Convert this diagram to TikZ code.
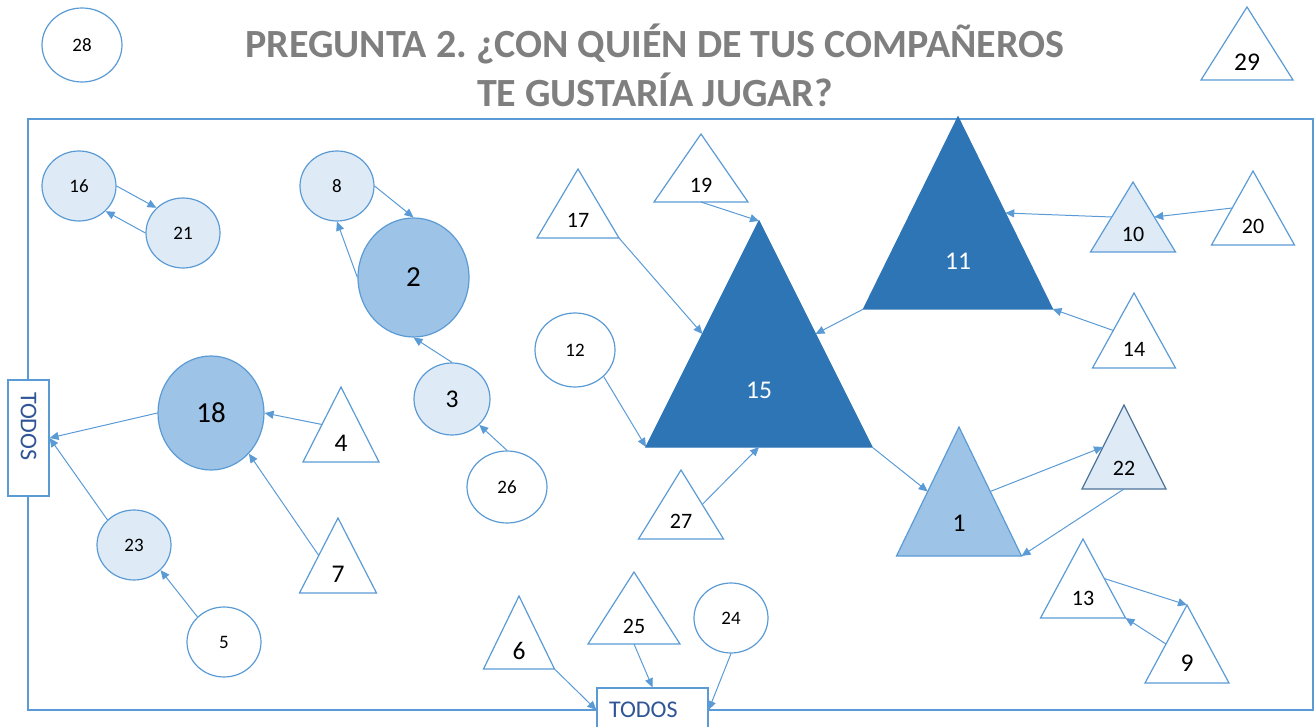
\documentclass[tikz,border=0pt]{standalone}
\usepackage{fontspec}
\setmainfont{Carlito}
\frenchspacing
\usetikzlibrary{shapes.geometric, arrows.meta, calc}
\definecolor{edge}{HTML}{5B9BD5}
\definecolor{pale}{HTML}{DEEBF7}
\definecolor{mid}{HTML}{9DC3E6}
\definecolor{deep}{HTML}{2E75B6}
\definecolor{edgedark}{HTML}{4F7399}
\definecolor{titlegray}{HTML}{7F7F7F}
\definecolor{todotext}{HTML}{2F5597}

% triangle: name, apex, base width, height, outline style, label style, label
\newcommand{\tri}[7]{%
  \draw[outline, #5] (#2) coordinate (#1-t) -- ++(#3/2,#4) coordinate (#1-r)
      -- ++(-#3,0) coordinate (#1-l) -- cycle;
  \coordinate (#1-b) at ($(#1-l)!0.5!(#1-r)$);
  \coordinate (#1-w) at ($(#1-t)!0.5!(#1-l)$);
  \coordinate (#1-e) at ($(#1-t)!0.5!(#1-r)$);
  \node[lab, #6] (#1) at ($(#1-t)!0.75!(#1-b)$) {#7};
}

\begin{document}
\begin{tikzpicture}[x=1pt, y=-1pt,
    outline/.style={draw=edge, line width=1.2pt, fill=white},
    stud/.style={ellipse, draw=edge, line width=1.2pt, fill=white, inner sep=0pt},
    lab/.style={inner sep=0pt},
    small/.style={font=\fontsize{19}{21}\selectfont},
    med/.style={font=\fontsize{22}{24}\selectfont},
    big/.style={font=\fontsize{25.5}{28}\selectfont},
    xl/.style={font=\fontsize{29}{32}\selectfont},
    arr/.style={draw=edge, line width=1pt, -{Triangle[length=9pt, width=8pt]}},
    todo/.style={draw=edge, fill=white, line width=1.2pt, text=todotext,
        font=\fontsize{24}{26}\selectfont, align=left, inner xsep=12pt, inner ysep=0pt}]

    \useasboundingbox (0,0) rectangle (1315,727);
    \clip (0,0) rectangle (1315,727);

    % Title
    \node[align=center, text=titlegray, font=\bfseries\fontsize{40}{49}\selectfont] (title) at (655,65)
        {PREGUNTA 2. ¿CON QUIÉN DE TUS COMPAÑEROS\\TE GUSTARÍA JUGAR?};

    % Frame
    \draw[edge, line width=1.2pt] (28,119) rectangle (1313,710);

    % Outside the frame
    \node[stud, small, minimum width=80pt, minimum height=74pt] (e28) at (82,45) {28};
    \tri{t29}{1247,7}{92}{73}{}{big}{29}

    % Circles
    \node[stud, small, fill=pale, minimum width=74pt, minimum height=70pt] (e16) at (79,186) {16};
    \node[stud, small, fill=pale, minimum width=74pt, minimum height=70pt] (e21) at (183,233) {21};
    \node[stud, small, fill=pale, minimum width=74pt, minimum height=70pt] (e8) at (337,186) {8};
    \node[stud, xl, fill=mid, minimum width=111pt, minimum height=119pt] (e2) at (413.5,277.5) {2};
    \node[stud, xl, fill=mid, minimum width=106pt, minimum height=114pt] (e18) at (211,413) {18};
    \node[stud, big, fill=pale, minimum width=76pt, minimum height=72pt] (e3) at (452,399) {3};
    \node[stud, small, minimum width=80pt, minimum height=72pt] (e26) at (507,487) {26};
    \node[stud, small, fill=pale, minimum width=74pt, minimum height=70pt] (e23) at (134,545) {23};
    \node[stud, small, minimum width=74pt, minimum height=70pt] (e5) at (224,642) {5};
    \node[stud, small, minimum width=80pt, minimum height=74pt] (e12) at (575,350) {12};
    \node[stud, small, minimum width=74pt, minimum height=70pt] (e24) at (731,618) {24};

    % Triangles
    \tri{t4}{341,387}{76}{75}{}{big}{4}
    \tri{t7}{338,518}{77}{75}{}{big}{7}
    \tri{t17}{578,169}{82}{69}{}{med}{17}
    \tri{t19}{701,134}{94}{68}{}{med}{19}
    \tri{t15}{759,221}{226}{226}{fill=deep, draw=deep}{big, text=white}{15}
    \tri{t11}{958,117}{189}{192}{fill=deep, draw=deep}{big, text=white}{11}
    \tri{t10}{1133,182}{85}{70}{fill=pale}{med}{10}
    \tri{t20}{1253,171}{83}{74}{}{med}{20}
    \tri{t14}{1134,293}{83}{75}{}{med}{14}
    \tri{t1}{959,427}{125}{129}{fill=mid}{big}{1}
    \tri{t22}{1124,405}{84}{84}{fill=pale, draw=edgedark}{med}{22}
    \tri{t13}{1083,539}{85}{79}{}{med}{13}
    \tri{t9}{1187,605}{84}{78}{}{big}{9}
    \tri{t27}{681,470}{85}{69}{}{med}{27}
    \tri{t25}{634,572}{92}{72}{}{med}{25}
    \tri{t6}{519,596}{71}{73}{}{big}{6}

    % TODOS boxes
    \node[todo, rotate=-90, minimum height=41pt, text width=92pt] (todosA) at (28.5,438) {TODOS};
    \node[todo, minimum height=44pt, text width=87pt] (todosB) at (652.5,710) {TODOS};

    % Left group
    \draw[arr] (e16.east) -- (e21.north west);
    \draw[arr] (e21.west) -- (e16.south east);
    \draw[arr] (e8.east) -- (e2.north);
    \draw[arr] (e2.west) -- (e8.south);
    \draw[arr] (e3.north) -- (e2.south);
    \draw[arr] (e26.north) -- (e3.south east);
    \draw[arr] (t4-w) -- (e18.east);
    \draw[arr] (t7-w) -- (e18.south east);
    \draw[arr] (e18.west) -- (todosA.north);
    \draw[arr] (e23.north west) -- (todosA.north);
    \draw[arr] (e5.north west) -- (e23.south east);

    % Centre
    \draw[arr] (t17-r) -- (t15-w);
    \draw[arr] (t19-b) -- (t15-t);
    \draw[arr] (e12.south east) -- (t15-l);
    \draw[arr] (t11-l) -- (t15-e);
    \draw[arr] (t27-e) -- (t15-b);
    \draw[arr] (t15-r) -- (t1-w);

    % Right group
    \draw[arr] (t1-e) -- (t22-w);
    \draw[arr] (t22-b) -- (t1-r);
    \draw[arr] (t10-w) -- (t11-e);
    \draw[arr] (t20-w) -- (t10-e);
    \draw[arr] (t14-w) -- (t11-r);
    \draw[arr] (t13-e) -- (t9-t);
    \draw[arr] (t9-w) -- (t13-r);

    % Bottom
    \draw[arr] (t6-r) -- (todosB.west);
    \draw[arr] (t25-b) -- (todosB.north);
    \draw[arr] (e24.south) -- (todosB.east);

\end{tikzpicture}
\end{document}
